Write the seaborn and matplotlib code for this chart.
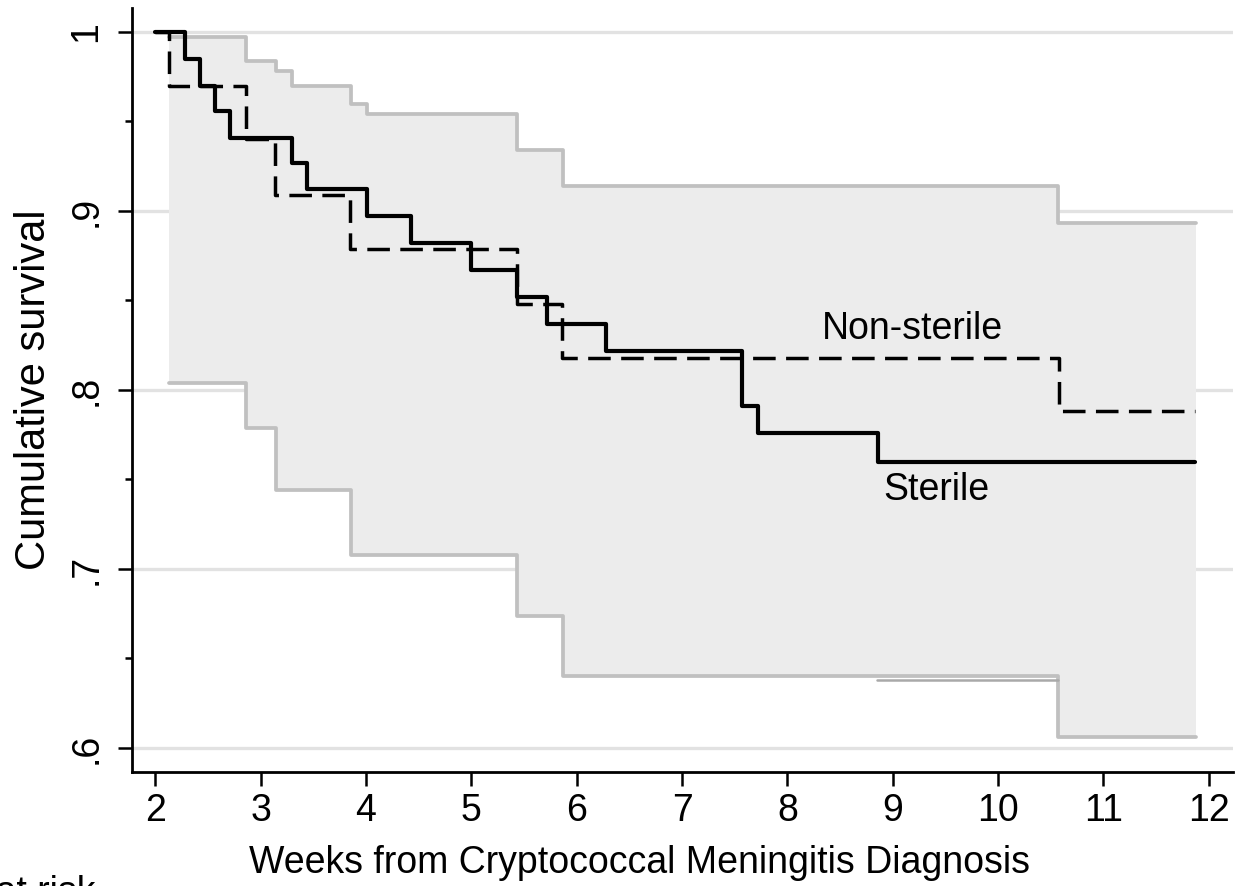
import matplotlib
matplotlib.use("Agg")
import matplotlib.pyplot as plt
import seaborn as sns
import pandas as pd

# Kaplan-Meier estimates (weeks, survival)
sterile_t = [2.0, 2.28, 2.43, 2.57, 2.71, 3.30, 3.44, 4.01, 4.43, 5.00, 5.43, 5.72, 6.28, 7.57, 7.72, 8.86, 11.87]
sterile_s = [1.0, 0.985, 0.970, 0.956, 0.941, 0.927, 0.912, 0.897, 0.882, 0.867, 0.852, 0.837, 0.822, 0.791, 0.776, 0.760, 0.760]

nonsterile_t = [2.0, 2.13, 2.86, 3.14, 3.85, 5.43, 5.86, 10.58, 11.87]
nonsterile_s = [1.0, 0.970, 0.940, 0.909, 0.879, 0.848, 0.818, 0.788, 0.788]

# confidence band
upper_t = [2.13, 2.86, 3.15, 3.30, 3.86, 4.01, 5.43, 5.87, 10.57, 11.88]
upper_s = [0.997, 0.984, 0.978, 0.970, 0.960, 0.954, 0.934, 0.914, 0.893, 0.893]
lower_t = [2.13, 2.86, 3.15, 3.86, 5.43, 5.87, 10.57, 11.88]
lower_s = [0.804, 0.779, 0.744, 0.708, 0.674, 0.640, 0.606, 0.606]

# second band edge where it shows separately
edge2_t = [8.85, 10.57]
edge2_s = [0.638, 0.638]

y_ticks = [0.6, 0.7, 0.8, 0.9, 1.0]
y_labels = [".6", ".7", ".8", ".9", "1"]
y_minor = [0.65, 0.75, 0.85, 0.95]
x_ticks = list(range(2, 13))

sns.set_style("white")
plt.rcParams["font.family"] = ["Liberation Sans", "DejaVu Sans"]
plt.rcParams["text.color"] = "black"
plt.rcParams["axes.labelcolor"] = "black"
plt.rcParams["xtick.color"] = "black"
plt.rcParams["ytick.color"] = "black"

FS = 27

fig = plt.figure(figsize=(12.43, 8.86), dpi=100)
ax = fig.add_axes([0.1062, 0.1287, 0.8858, 0.8623])

# grid lines first, band covers them
for yv in y_ticks:
    ax.axhline(yv, color="#e2e2e2", lw=2.4, zorder=0)

# band: merge both edges onto a common time grid
band_t = sorted(set(upper_t) | set(lower_t))
up = pd.Series(upper_s, index=upper_t).reindex(band_t).ffill()
lo = pd.Series(lower_s, index=lower_t).reindex(band_t).ffill()
ax.fill_between(band_t, lo.values, up.values, step="post", color="#ececec", lw=0, zorder=1)

gray = "#c0c0c0"
sns.lineplot(x=upper_t, y=upper_s, ax=ax, drawstyle="steps-post", color=gray, lw=2.7, zorder=2)
sns.lineplot(x=lower_t, y=lower_s, ax=ax, drawstyle="steps-post", color=gray, lw=2.7, zorder=2)
sns.lineplot(x=edge2_t, y=edge2_s, ax=ax, drawstyle="steps-post", color="#a9a9a9", lw=1.8, zorder=2)

sns.lineplot(x=nonsterile_t, y=nonsterile_s, ax=ax, drawstyle="steps-post", color="black",
             lw=2.5, zorder=3).lines[-1].set_dashes((6.5, 3))
sns.lineplot(x=sterile_t, y=sterile_s, ax=ax, drawstyle="steps-post", color="black", lw=3.0, zorder=4)

ax.text(9.19, 0.834, "Non-sterile", fontsize=FS, ha="center", va="center")
ax.text(9.41, 0.744, "Sterile", fontsize=FS, ha="center", va="center")

ax.set_xlim(1.78, 12.23)
ax.set_ylim(0.5866, 1.0134)
ax.set_xticks(x_ticks)
ax.set_xticklabels([str(v) for v in x_ticks], fontsize=FS)
ax.set_yticks(y_ticks)
ax.set_yticklabels(y_labels, fontsize=FS, rotation=90, va="center")
ax.set_yticks(y_minor, minor=True)
ax.tick_params(axis="both", which="major", length=10, width=1.8, color="black", pad=5, direction="out",
               left=True, bottom=True)
ax.tick_params(axis="y", which="major", pad=10)
ax.tick_params(axis="y", which="minor", length=5, width=1.8, color="black", left=True)

for side in ["top", "right"]:
    ax.spines[side].set_visible(False)
for side in ["left", "bottom"]:
    ax.spines[side].set_color("black")
    ax.spines[side].set_linewidth(2.0)

ax.set_xlabel("Weeks from Cryptococcal Meningitis Diagnosis", fontsize=FS, labelpad=12)
ax.xaxis.set_label_coords(0.461, -0.095)
ax.set_ylabel("Cumulative survival", fontsize=30, labelpad=10)

fig.text(95 / 1243, 1 - 875 / 886, "Number at risk", fontsize=FS, ha="right", va="top")

fig.savefig("out.png", dpi=100)
